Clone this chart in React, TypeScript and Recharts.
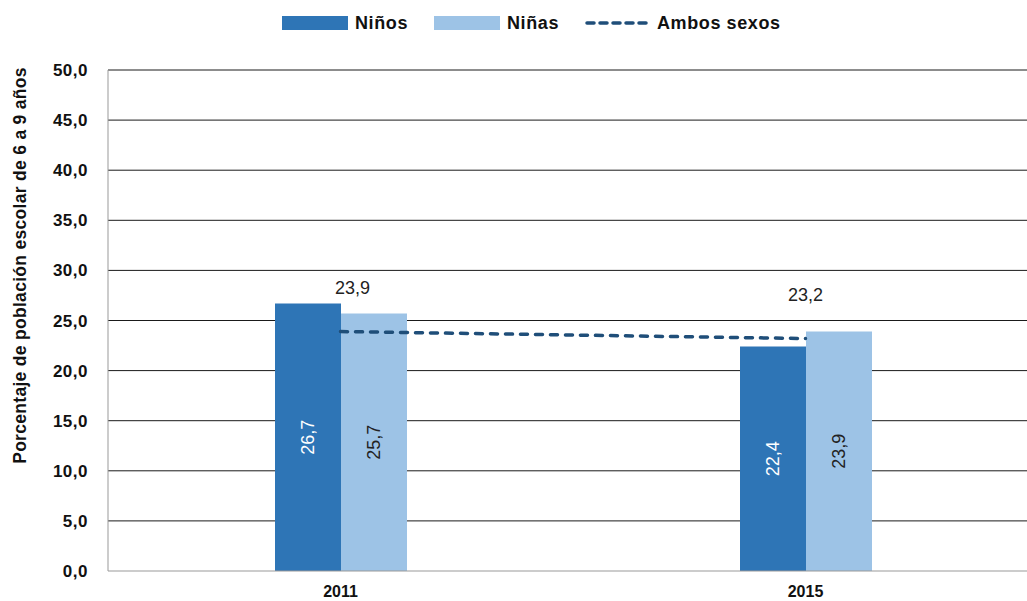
import React from "react";
import { ComposedChart, Bar, Line, XAxis, YAxis, CartesianGrid, LabelList } from "recharts";

const categories = ["2011", "2015"];
const ninos = [26.7, 22.4];
const ninas = [25.7, 23.9];
const ambos = [23.9, 23.2];
const yTicks = [0, 5, 10, 15, 20, 25, 30, 35, 40, 45, 50];

const data = categories.map((c, i) => ({ year: c, ninos: ninos[i], ninas: ninas[i], ambos: ambos[i] }));

const FONT = "'Liberation Sans', Arial, Helvetica, sans-serif";
const fmt = (v: number) => v.toFixed(1).replace(".", ",");

const C_NINOS = "#2E75B6";
const C_NINAS = "#9DC3E6";
const C_LINE = "#1F4E79";

const barLabel = (color: string) => (props: any) => {
  const { x, y, width, height, value } = props;
  const cx = x + width / 2;
  const cy = y + height / 2;
  return (
    <text
      x={cx}
      y={cy}
      transform={`rotate(-90 ${cx} ${cy})`}
      textAnchor="middle"
      dominantBaseline="central"
      fill={color}
      fontFamily={FONT}
      fontSize={18}
    >
      {fmt(value)}
    </text>
  );
};

const lineLabel = (props: any) => {
  const { x, y, value, index } = props;
  return (
    <text
      x={x + (index === 0 ? 12 : 0)}
      y={y - 44}
      textAnchor="middle"
      dominantBaseline="central"
      fill="#222"
      fontFamily={FONT}
      fontSize={18}
    >
      {fmt(value)}
    </text>
  );
};

const YLabel = (props: any) => {
  const { viewBox } = props;
  const cx = 20;
  const cy = viewBox.y + viewBox.height / 2 - 55;
  return (
    <text
      x={cx}
      y={cy}
      transform={`rotate(-90 ${cx} ${cy})`}
      textAnchor="middle"
      dominantBaseline="central"
      fill="#111"
      fontFamily={FONT}
      fontSize={17.5}
      fontWeight="bold"
      letterSpacing={0.3}
    >
      Porcentaje de población escolar de 6 a 9 años
    </text>
  );
};

const Legend = () => (
  <div
    style={{
      position: "absolute",
      left: 0,
      top: 0,
      width: 1027,
      height: 50,
      fontFamily: FONT,
      fontSize: 18,
      fontWeight: "bold",
      letterSpacing: 0.6,
      color: "#111",
    }}
  >
    <div style={{ position: "absolute", left: 282, top: 16, width: 66, height: 14, background: C_NINOS }} />
    <div style={{ position: "absolute", left: 355, top: 12, lineHeight: "22px" }}>Niños</div>
    <div style={{ position: "absolute", left: 434, top: 16, width: 66, height: 14, background: C_NINAS }} />
    <div style={{ position: "absolute", left: 507, top: 12, lineHeight: "22px" }}>Niñas</div>
    <svg style={{ position: "absolute", left: 583, top: 18 }} width={72} height={10}>
      <line x1={4} y1={5} x2={68} y2={5} stroke={C_LINE} strokeWidth={3.5} strokeDasharray="7 6" strokeLinecap="round" />
    </svg>
    <div style={{ position: "absolute", left: 657, top: 12, lineHeight: "22px" }}>Ambos sexos</div>
  </div>
);

export default function App() {
  return (
    <div style={{ position: "absolute", left: 0, top: 0, width: 1027, height: 601, overflow: "hidden", background: "#fff" }}>
      <Legend />
      <div style={{ position: "absolute", left: 0, top: 0 }}>
        <ComposedChart
          width={1045}
          height={601}
          data={data}
          margin={{ top: 70, right: 7, bottom: 0, left: 0 }}
          barGap={0}
          barSize={66}
        >
          <CartesianGrid vertical={false} stroke="#1a1a1a" strokeWidth={1} horizontalValues={yTicks.slice(1)} />
          <XAxis
            dataKey="year"
            height={30}
            tickLine={false}
            axisLine={{ stroke: "#999" }}
            tick={{ fill: "#111", fontFamily: FONT, fontSize: 16, fontWeight: "bold" }}
            tickMargin={9}
          />
          <YAxis
            width={108}
            domain={[0, 50]}
            ticks={yTicks}
            interval={0}
            tickLine={false}
            axisLine={{ stroke: "#999" }}
            tick={{ fill: "#111", fontFamily: FONT, fontSize: 17, fontWeight: "bold", letterSpacing: 0.5 }}
            tickFormatter={fmt}
            tickMargin={14}
            label={<YLabel />}
          />
          <Bar dataKey="ninos" fill={C_NINOS} isAnimationActive={false}>
            <LabelList dataKey="ninos" content={barLabel("#fff")} />
          </Bar>
          <Bar dataKey="ninas" fill={C_NINAS} isAnimationActive={false}>
            <LabelList dataKey="ninas" content={barLabel("#222")} />
          </Bar>
          <Line
            dataKey="ambos"
            stroke={C_LINE}
            strokeWidth={3.5}
            strokeDasharray="7 8"
            strokeLinecap="round"
            dot={false}
            activeDot={false}
            isAnimationActive={false}
          >
            <LabelList dataKey="ambos" content={lineLabel} />
          </Line>
        </ComposedChart>
      </div>
    </div>
  );
}
